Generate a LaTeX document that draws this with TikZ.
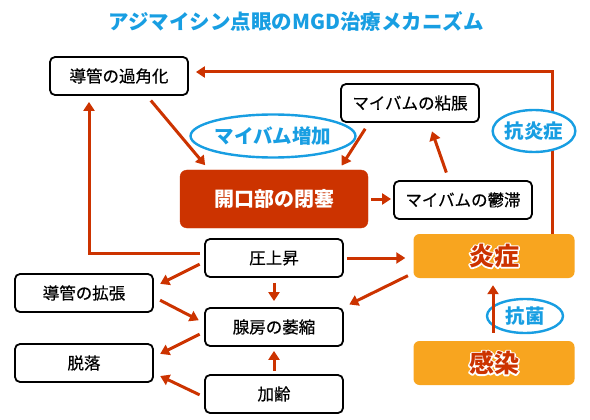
\documentclass[tikz,border=0pt]{standalone}
\usepackage{fontspec}
\setmainfont{Noto Sans CJK JP}
\newfontfamily\boxfont{Noto Sans CJK JP}[FakeBold=0.4]
\usetikzlibrary{arrows.meta,shapes.geometric}
\definecolor{rust}{HTML}{CC3300}
\definecolor{sky}{HTML}{189EE2}
\definecolor{amber}{HTML}{F8A51F}
\newcommand{\hot}[1]{\rlap{\special{pdf:code 1 Tr 2.8 w 1 j 1 1 1 RG}#1\special{pdf:code 0 Tr}}#1}
\tikzset{
            box/.style={draw, line width=1.8pt, rounded corners=5pt, fill=white,
                        minimum width=138pt, minimum height=38pt,
                        font=\boxfont\fontsize{16.5}{18}\selectfont},
            block/.style={draw=rust, fill=rust, rounded corners=7pt,
                        minimum width=188pt, minimum height=58pt, text=white,
                        font=\bfseries\fontsize{20}{22}\selectfont},
            flame/.style={fill=amber, rounded corners=6pt,
                        minimum width=161pt, minimum height=44pt, text=rust,
                        font=\bfseries\fontsize{25}{27}\selectfont},
            oval/.style={ellipse, draw=sky, line width=2.4pt, fill=white,
                        inner sep=0pt, text=sky,
                        font=\bfseries\fontsize{19.5}{21}\selectfont},
            link/.style={draw=rust, line width=3pt, -{Triangle[width=11pt,length=9pt]}}
        }

\begin{document}
\begin{tikzpicture}[x=1pt, y=-1pt]
                \useasboundingbox (0,0) rectangle (590,420);
                \node[text=sky, font=\bfseries\fontsize{20.5}{22}\selectfont] (ttl) at (296,22)
                    {アジマイシン点眼のMGD治療メカニズム};
                \node[box] (kaku) at (119,76) {導管の過角化};
                \node[box] (nen) at (410,103) {マイバムの粘脹};
                \node[block] (heisoku) at (274,199) {開口部の閉塞};
                \node[box] (utai) at (463,200) {マイバムの鬱滞};
                \node[flame] (ensho) at (494,256) {\hot{炎症}};
                \node[box] (atsu) at (274,258) {圧上昇};
                \node[box] (kakucho) at (84,293) {導管の拡張};
                \node[box] (ishuku) at (274,327) {腺房の萎縮};
                \node[box] (datsu) at (84,363) {脱落};
                \node[box] (karei) at (274,394) {加齢};
                \node[flame] (kansen) at (494,363) {\hot{感染}};
                \node[oval, minimum width=76pt, minimum height=34pt] (kokin) at (525,316) {抗菌};

                \draw[link, shorten <=6pt, shorten >=6pt] ([xshift=28pt]kaku.south) -- ([xshift=-65pt]heisoku.north);
                \draw[link, shorten <=7pt, shorten >=5pt] ([xshift=-41pt]nen.south) -- ([xshift=65pt]heisoku.north);
                \draw[link, shorten <=8pt, shorten >=9pt] ([xshift=-14pt]utai.north) -- ([xshift=19pt]nen.south);
                \draw[link, shorten <=3pt, shorten >=2pt] (heisoku.east) -- (heisoku.east -| utai.west);
                \draw[link, shorten >=7pt] ([xshift=58pt]ensho.north) |- ([yshift=4pt]kaku.east);
                \draw[link, shorten <=4pt, shorten >=6pt] ([yshift=5pt]atsu.west) -| ([xshift=-30pt]kaku.south);
                \draw[link, shorten <=3pt, shorten >=8pt] (atsu.east) -- (atsu.east -| ensho.west);
                \draw[link, shorten <=5pt, shorten >=7pt] ([yshift=-4pt]atsu.west) -- ([yshift=6pt]kakucho.east);
                \draw[link, shorten <=5pt, shorten >=6pt] (atsu.south) -- (ishuku.north);
                \draw[link, shorten <=6pt, shorten >=6pt] ([yshift=-17pt]ensho.west) -- (ishuku.north east);
                \draw[link, shorten <=7pt, shorten >=6pt] ([yshift=-4pt]kakucho.east) -- ([yshift=4pt]ishuku.west);
                \draw[link, shorten <=5pt, shorten >=7pt] ([yshift=-5pt]ishuku.west) -- ([yshift=6pt]datsu.east);
                \draw[link, shorten <=3pt, shorten >=4pt] (karei.north) -- (ishuku.south);
                \draw[link, shorten <=5pt, shorten >=7pt] ([yshift=-3pt]karei.west) -- ([yshift=-10pt]datsu.east);
                \draw[link, shorten <=8pt, shorten >=7pt] ([xshift=-1pt]kansen.north) -- ([xshift=-1pt]ensho.south);

                \node[oval, minimum width=145pt, minimum height=43pt] (zoka) at (273,136) {マイバム増加};
                \node[oval, minimum width=77pt, minimum height=42pt] (koen) at (534,131) {抗炎症};
            \end{tikzpicture}
\end{document}
